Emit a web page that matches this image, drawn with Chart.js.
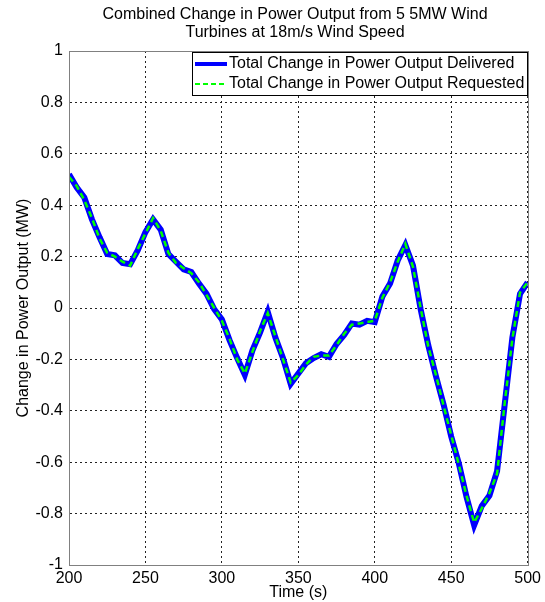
<!DOCTYPE html>
<html>
<head>
<meta charset="utf-8">
<script src="https://cdn.jsdelivr.net/npm/chart.js@4/dist/chart.umd.min.js"></script>
<style>
  html, body { margin: 0; padding: 0; background: #fff; }
</style>
</head>
<body>
<canvas id="grafico" width="545" height="602"></canvas>
<script>
const tiempos = [200, 205, 210, 215, 220, 225, 230, 235, 240, 245, 250, 255, 260, 265, 270, 275, 280, 285, 290, 295,
  300, 305, 310, 315, 320, 325, 330, 335, 340, 345, 350, 355, 360, 365, 370, 375, 380, 385, 390, 395,
  400, 405, 410, 415, 420, 425, 430, 435, 440, 445, 450, 455, 460, 465, 470, 475, 480, 485, 490, 495, 500];

const solicitado = [0.51, 0.475, 0.42, 0.35, 0.27, 0.215, 0.2, 0.18, 0.165, 0.23, 0.29, 0.35, 0.3, 0.215, 0.175, 0.155, 0.135, 0.1, 0.05, 0.0,
  -0.05, -0.12, -0.2, -0.255, -0.17, -0.09, -0.02, -0.11, -0.2, -0.29, -0.26, -0.22, -0.19, -0.185, -0.185, -0.145, -0.1, -0.065, -0.06, -0.055,
  -0.05, 0.04, 0.1, 0.18, 0.25, 0.16, 0.0, -0.15, -0.26, -0.38, -0.495, -0.61, -0.73, -0.835, -0.78, -0.72, -0.645, -0.37, -0.12, 0.06, 0.1];

const entregado = [0.52, 0.47, 0.43, 0.345, 0.275, 0.21, 0.205, 0.175, 0.17, 0.225, 0.295, 0.345, 0.305, 0.21, 0.18, 0.15, 0.14, 0.095, 0.055, -0.005,
  -0.045, -0.125, -0.195, -0.26, -0.165, -0.095, -0.015, -0.115, -0.195, -0.295, -0.255, -0.215, -0.195, -0.18, -0.19, -0.14, -0.105, -0.06, -0.065, -0.05,
  -0.055, 0.045, 0.095, 0.185, 0.245, 0.165, -0.005, -0.145, -0.265, -0.375, -0.5, -0.605, -0.735, -0.845, -0.77, -0.73, -0.635, -0.375, -0.115, 0.055, 0.1];

const ticksX = [200, 250, 300, 350, 400, 450, 500];
const ticksY = [-1, -0.8, -0.6, -0.4, -0.2, 0, 0.2, 0.4, 0.6, 0.8, 1];

const titulo = ['Combined Change in Power Output from 5 5MW Wind', 'Turbines at 18m/s Wind Speed'];
const etiquetas = ['Total Change in Power Output Delivered', 'Total Change in Power Output Requested'];

const fuente = '"Liberation Sans", Arial, sans-serif';

// marco, titulo y leyenda al estilo MATLAB
const marco = {
  id: 'marco',
  afterDraw(chart) {
    const { ctx, chartArea: a } = chart;
    ctx.save();
    ctx.strokeStyle = '#808080';
    ctx.lineWidth = 1;
    ctx.strokeRect(Math.round(a.left) + 0.5, Math.round(a.top) + 0.5, Math.round(a.right - a.left), Math.round(a.bottom - a.top));

    ctx.fillStyle = '#000';
    ctx.font = '16px ' + fuente;
    ctx.textAlign = 'center';
    ctx.textBaseline = 'middle';
    titulo.forEach((linea, i) => ctx.fillText(linea, 295, 15 + i * 18));

    // leyenda
    const lx = 192, ly = 52, lw = 335, lh = 43;
    ctx.fillStyle = '#fff';
    ctx.fillRect(lx, ly, lw, lh);
    ctx.strokeStyle = '#000';
    ctx.strokeRect(lx + 0.5, ly + 0.5, lw, lh);
    const filas = [64, 84];
    ctx.lineWidth = 4;
    ctx.strokeStyle = '#0000ff';
    ctx.beginPath(); ctx.moveTo(195, filas[0]); ctx.lineTo(227, filas[0]); ctx.stroke();
    ctx.lineWidth = 2;
    ctx.strokeStyle = '#00ff00';
    ctx.setLineDash([5, 3]);
    ctx.beginPath(); ctx.moveTo(195, filas[1]); ctx.lineTo(227, filas[1]); ctx.stroke();
    ctx.setLineDash([]);
    ctx.fillStyle = '#000';
    ctx.textAlign = 'left';
    etiquetas.forEach((e, i) => ctx.fillText(e, 229, filas[i]));
    ctx.restore();
  }
};

const ctx = document.getElementById('grafico').getContext('2d');
new Chart(ctx, {
  type: 'line',
  data: {
    datasets: [{
      label: etiquetas[1],
      data: tiempos.map((t, i) => ({ x: t, y: solicitado[i] })),
      borderColor: '#00ff00',
      borderWidth: 2.5,
      borderDash: [6, 4],
      pointRadius: 0,
      tension: 0,
      order: 0
    }, {
      label: etiquetas[0],
      data: tiempos.map((t, i) => ({ x: t, y: entregado[i] })),
      borderColor: '#0000ff',
      borderWidth: 6,
      pointRadius: 0,
      tension: 0,
      order: 1
    }]
  },
  options: {
    responsive: false,
    devicePixelRatio: 1,
    animation: false,
    layout: { padding: { top: 51, right: 17, left: 0, bottom: 0 } },
    plugins: {
      legend: { display: false },
      title: { display: false },
      tooltip: { enabled: false }
    },
    scales: {
      x: {
        type: 'linear',
        min: 200,
        max: 500,
        afterBuildTicks: scale => { scale.ticks = ticksX.map(v => ({ value: v })); },
        afterFit: scale => { scale.height = 37; },
        grid: { color: '#222', drawTicks: false },
        border: { color: '#808080', dash: [2, 3] },
        ticks: { padding: 4, color: '#000', font: { family: fuente, size: 16 }, maxRotation: 0 },
        title: { display: true, text: 'Time (s)', color: '#000', font: { family: fuente, size: 16 }, padding: { top: 0, bottom: 0 } }
      },
      y: {
        min: -1,
        max: 1,
        afterBuildTicks: scale => { scale.ticks = ticksY.map(v => ({ value: v })); },
        afterFit: scale => { scale.width = 69; },
        grid: { color: '#222', drawTicks: false },
        border: { color: '#808080', dash: [2, 3] },
        ticks: { padding: 6, color: '#000', font: { family: fuente, size: 16 }, callback: v => String(Number(v.toFixed(1))) },
        title: { display: true, text: 'Change in Power Output (MW)', color: '#000', font: { family: fuente, size: 16 }, padding: { top: 14, bottom: 0 } }
      }
    }
  },
  plugins: [marco]
});
</script>
</body>
</html>
